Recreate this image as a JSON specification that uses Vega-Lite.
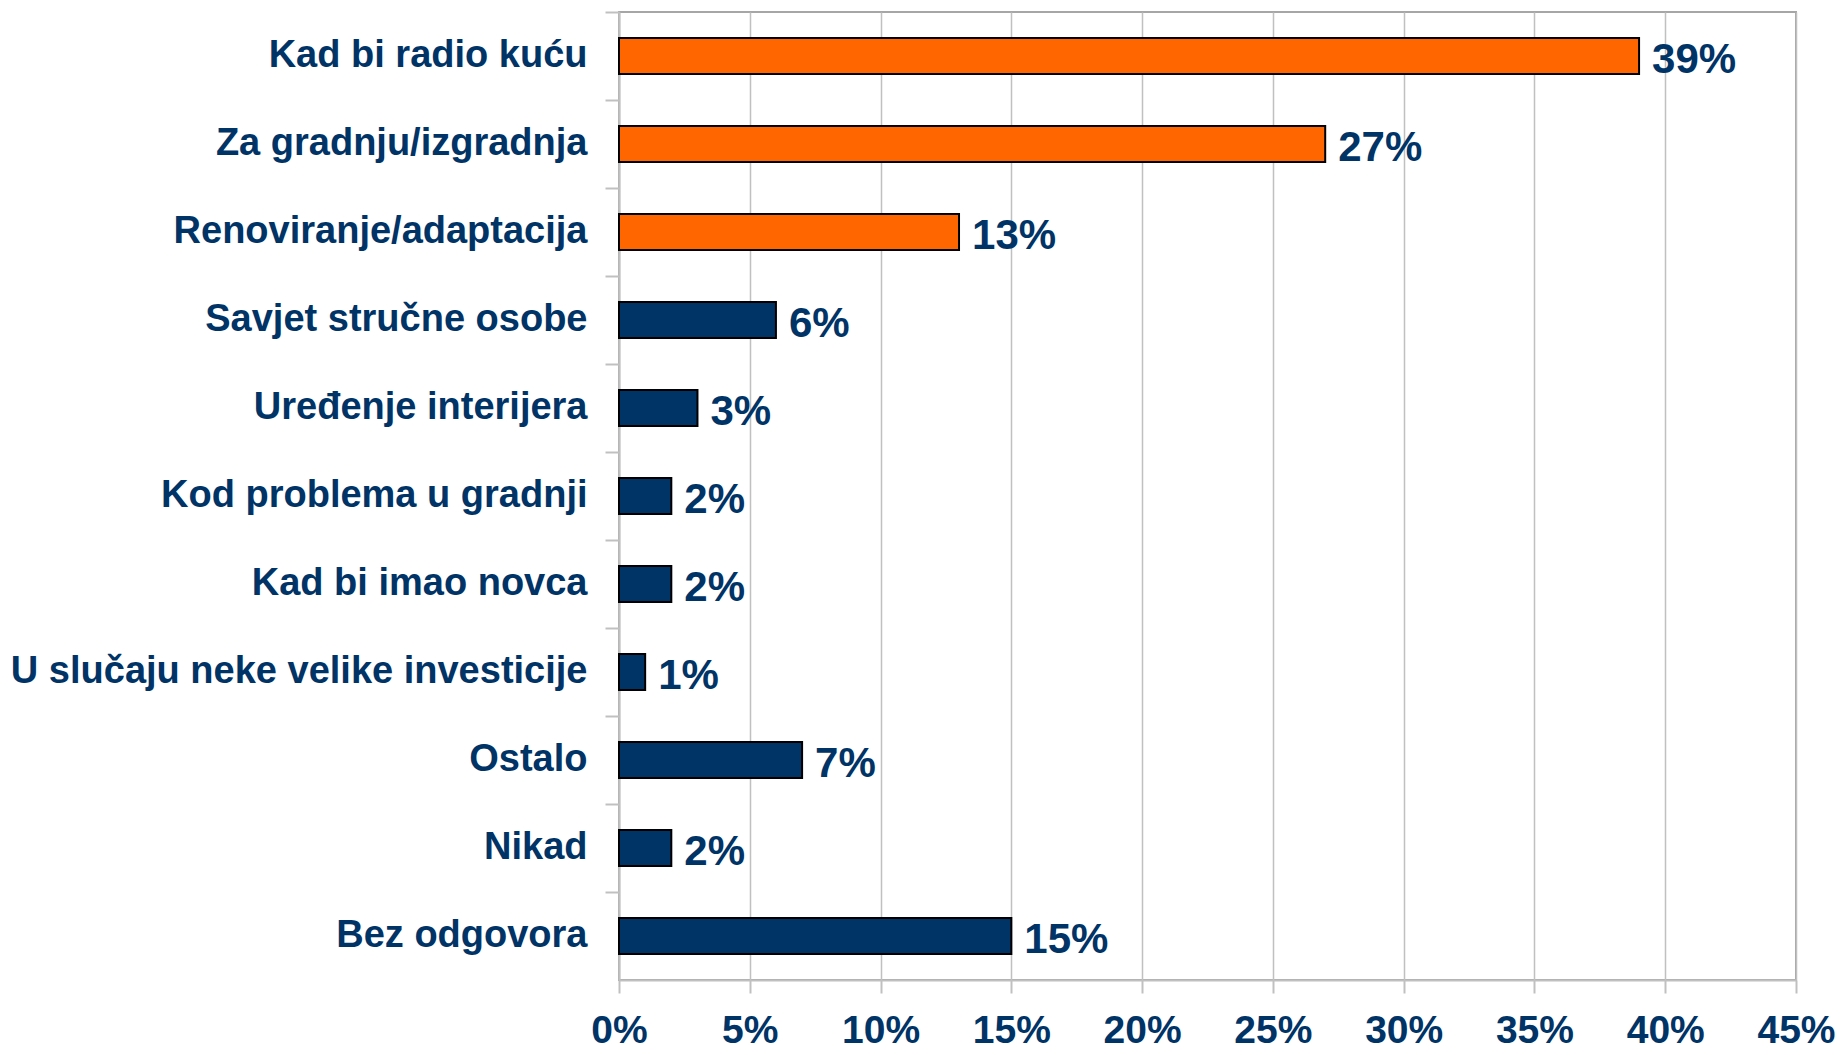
{
  "$schema": "https://vega.github.io/schema/vega-lite/v6.json",
  "width": 1177,
  "height": 968,
  "autosize": "none",
  "padding": {"left": 619, "top": 12, "right": 45, "bottom": 75},
  "background": "white",
  "config": {"view": {"stroke": "#a6a6a6", "strokeWidth": 2}, "font": "Liberation Sans"},
  "data": {
    "values": [
      {"category": "Kad bi radio kuću", "value": 0.39, "group": "top"},
      {"category": "Za gradnju/izgradnja", "value": 0.27, "group": "top"},
      {"category": "Renoviranje/adaptacija", "value": 0.13, "group": "top"},
      {"category": "Savjet stručne osobe", "value": 0.06, "group": "other"},
      {"category": "Uređenje interijera", "value": 0.03, "group": "other"},
      {"category": "Kod problema u gradnji", "value": 0.02, "group": "other"},
      {"category": "Kad bi imao novca", "value": 0.02, "group": "other"},
      {"category": "U slučaju neke velike investicije", "value": 0.01, "group": "other"},
      {"category": "Ostalo", "value": 0.07, "group": "other"},
      {"category": "Nikad", "value": 0.02, "group": "other"},
      {"category": "Bez odgovora", "value": 0.15, "group": "other"}
    ]
  },
  "encoding": {
    "y": {
      "field": "category",
      "type": "nominal",
      "sort": null,
      "scale": {"paddingInner": 0, "paddingOuter": 0},
      "axis": {
        "title": null,
        "labelFontSize": 38,
        "labelFontWeight": "bold",
        "labelColor": "#003366",
        "labelFont": "Liberation Sans",
        "labelLimit": 800,
        "labelPadding": 18,
        "tickSize": 14,
        "tickColor": "#c0c0c0",
        "tickWidth": 2,
        "bandPosition": 0,
        "domainColor": "#c0c0c0",
        "domainWidth": 2,
        "grid": false
      }
    },
    "x": {
      "field": "value",
      "type": "quantitative",
      "scale": {"domain": [0, 0.45], "nice": false},
      "axis": {
        "title": null,
        "values": [0, 0.05, 0.1, 0.15, 0.2, 0.25, 0.3, 0.35, 0.4, 0.45],
        "format": ".0%",
        "grid": true,
        "gridColor": "#c0c0c0",
        "gridWidth": 1.5,
        "labelFontSize": 39,
        "labelFontWeight": "bold",
        "labelColor": "#003366",
        "labelFont": "Liberation Sans",
        "labelFlush": false,
        "labelPadding": 18,
        "tickSize": 13,
        "tickColor": "#c0c0c0",
        "tickWidth": 2,
        "domainColor": "#c0c0c0",
        "domainWidth": 2
      }
    }
  },
  "layer": [
    {
      "mark": {"type": "bar", "height": {"band": 0.41}, "stroke": "black", "strokeWidth": 2},
      "encoding": {
        "color": {
          "field": "group",
          "type": "nominal",
          "scale": {"domain": ["top", "other"], "range": ["#FF6600", "#003366"]},
          "legend": null
        }
      }
    },
    {
      "mark": {"type": "text", "align": "left", "baseline": "middle", "dx": 13, "dy": 4, "fontSize": 42, "fontWeight": "bold", "color": "#003366", "font": "Liberation Sans"},
      "encoding": {
        "text": {"field": "value", "type": "quantitative", "format": ".0%"}
      }
    }
  ]
}
